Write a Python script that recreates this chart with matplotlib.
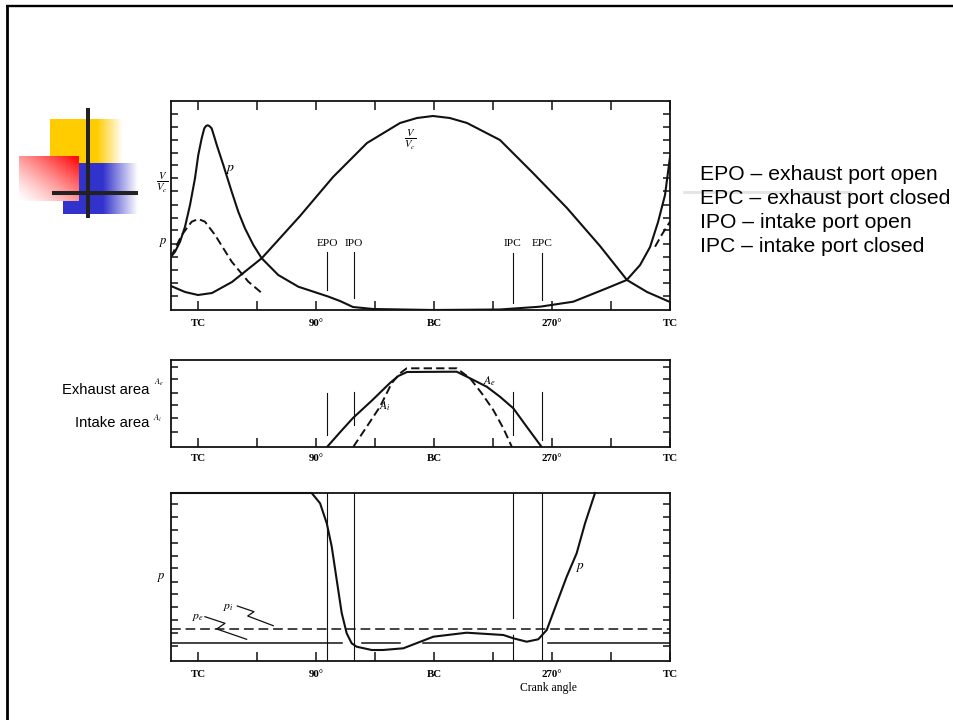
import matplotlib.pyplot as plt
import numpy as np

plt.rcParams['font.family'] = 'Liberation Serif'
plt.rcParams['mathtext.fontset'] = 'stix'
plt.rcParams['lines.scale_dashes'] = False

# crank angle axis
crank_ticks = [0, 45, 90, 135, 180, 225, 270, 315, 360]
crank_labels = ['TC', '', '90°', '', 'BC', '', '270°', '', 'TC']

# port timing, deg after TC
port_names = ['EPO', 'IPO', 'IPC', 'EPC']
port_angle = [98.5, 119, 240, 262.5]

# ---- top panel: pressure and volume (arbitrary units)
p_angle = [-20.6, -17.5, -13.7, -9.9, -6.1, -2.3, 0.2, 2.8, 4.8, 6.1, 7.4, 8.6,
           10.4, 12.4, 14.3, 19.3, 25.7, 30.7, 35.8, 42.2, 48.6, 61.2, 76.5,
           91.8, 99.2, 108.3, 118.2, 133.5, 179.2, 230.3, 260.8, 286.2, 311.7,
           327.0, 337.2, 344.8, 350.9, 356.2, 360]
p_top = [53.3, 58.3, 68.3, 83.3, 105, 131.7, 155, 171.7, 181.7, 184, 184.7, 184,
         181.7, 173.3, 165, 145, 118.3, 98.3, 81.7, 65, 51.7, 35, 23.3,
         16.7, 13.5, 9, 3, 1, 0, 0.5, 3.3, 8.3, 21.7,
         30, 45, 63, 88, 115, 153]

vol_angle = [-20.6, -9.9, 0, 10.7, 25.9, 48.8, 77.8, 103.0, 128.9, 154.1, 167.0,
             179.2, 192.0, 205.2, 230.3, 255.5, 281.4, 306.6, 327.2, 342.5, 360]
vol_ratio = [24, 18, 15, 17, 28, 52, 94, 133, 167, 187, 192,
             194, 192, 187, 170, 137, 102, 64, 30, 18, 8]

p_dash_angle = [-20.6, -12.4, -4.8, 0.2, 5.3, 13.0, 25.7, 38.4, 49.8]
p_dash = [53, 75, 88.3, 91, 88.3, 75, 48.3, 28.3, 15.7]
p_dash_end_angle = [348.6, 353.6, 360]
p_dash_end = [63.3, 75, 88.3]

top_yticks = [196, 183, 170, 157, 145, 132, 119, 105, 92, 80, 66, 53, 40, 27, 14]
port_top_line = [(58, 20), (58, 12), (57, 7), (57, 10)]
port_label_y = 67

# ---- middle panel: port areas
ae_angle = [98.4, 108.3, 118.2, 132.5, 146.4, 152.8, 159.4, 197.3, 207.5, 220.2,
            230.3, 240.5, 250.7, 262.1]
ae_area = [0, 14.7, 29, 46.3, 64, 71, 75, 75.3, 68.7, 60.3,
           50.3, 38.7, 20.3, 0]
ai_angle = [118.5, 128.7, 138.8, 147.7, 154.1, 159.2, 197.3, 207.5, 216.4, 225.2,
            232.9, 239.3]
ai_area = [0.3, 20.3, 40.3, 63.7, 73.7, 78.7, 78.7, 68.7, 53.7, 37, 18.7, 0.3]
mid_yticks = [80, 68, 54, 42, 29, 15]
port_mid_line = [(54, 12), (55, 22), (55, 12), (55, 7)]

# ---- bottom panel: pressure during scavenging
p_low_angle = [-20.6, 81.6, 86.7, 93.1, 98.2, 102.0, 105.8, 109.6, 113.4, 117.2,
               121.0, 132.5, 141.1, 156.6, 179.5, 204.9, 232.9, 240.5, 250.7,
               259.5, 266.0, 273.6, 281.2, 288.8, 295.2, 302.8]
p_low = [168, 168, 168, 157.7, 137.7, 114.3, 81, 48, 27.7, 17.7,
         14.3, 11, 11, 12.7, 24.3, 28.3, 26, 22.7, 19.3,
         21.7, 31, 57.7, 84.3, 107.7, 137.7, 168]
p_intake = 32
p_exhaust = 18
pe_pieces = [(-20.6, 109.6), (124.9, 154.1), (171.6, 240.3), (266.9, 360)]
low_yticks = [157, 144, 131, 118, 105, 93, 79, 67, 54, 41, 28, 15]
pi_zig_angle = [30.0, 42.7, 37.9, 57.4]
pi_zig = [55, 49.3, 45, 35.3]
pe_zig_angle = [5.3, 20.6, 14.3, 37.1]
pe_zig = [44.3, 37.7, 32, 21.7]

notes = ['EPO – exhaust port open', 'EPC – exhaust port closed',
         'IPO – intake port open', 'IPC – intake port closed']

W, H = 954, 720
ink = '#111111'
fig = plt.figure(figsize=(W / 100, H / 100), dpi=100)


def panel(top, bottom, ymax, yticks, pad, top_ticks=False):
    ax = fig.add_axes([171 / W, 1 - bottom / H, (670 - 171) / W, (bottom - top) / H])
    ax.set_xlim(-20.6, 360)
    ax.set_ylim(0, ymax)
    ax.set_xticks(crank_ticks)
    ax.set_xticklabels(crank_labels, fontsize=7.8, fontweight='bold')
    ax.set_yticks(yticks)
    ax.set_yticklabels([])
    ax.tick_params(axis='x', direction='in', length=6.5, width=1.1, pad=pad,
                   top=top_ticks, color=ink)
    ax.tick_params(axis='y', direction='in', length=5, width=1.1,
                   left=True, right=True, color=ink)
    for s in ax.spines.values():
        s.set_linewidth(1.3)
        s.set_color(ink)
    return ax


# top panel
ax1 = panel(101, 310, 209, top_yticks, 6.6, top_ticks=True)
ax1.plot(p_angle, p_top, color=ink, lw=1.5)
ax1.plot(vol_angle, vol_ratio, color=ink, lw=1.5)
ax1.plot(p_dash_angle, p_dash, color=ink, lw=1.4, linestyle=(0, (6, 3)))
ax1.plot(p_dash_end_angle, p_dash_end, color=ink, lw=1.4, linestyle=(0, (6, 3)))
for name, a, (y0, y1) in zip(port_names, port_angle, port_top_line):
    ax1.plot([a, a], [y0, y1], color=ink, lw=0.8)
    ax1.text(a, port_label_y, name, ha='center', va='center', fontsize=8.2)
ax1.text(24.4, 140, '$p$', fontsize=10, ha='center', va='center')
ax1.text(161.7, 170, r'$\frac{V}{V_c}$', fontsize=11, ha='center', va='center')
ax1.text(-0.018, 0.61, r'$\frac{V}{V_c}$', fontsize=11, ha='center', va='center',
         transform=ax1.transAxes)
ax1.text(-0.016, 0.325, '$p$', fontsize=9, ha='center', va='center',
         transform=ax1.transAxes)

# middle panel
ax2 = panel(360, 447, 87, mid_yticks, 5.2)
ax2.plot(ae_angle, ae_area, color=ink, lw=1.5)
ax2.plot(ai_angle, ai_area, color=ink, lw=1.4, linestyle=(0, (6, 3)))
for a, (y0, y1) in zip(port_angle, port_mid_line):
    ax2.plot([a, a], [y0, y1], color=ink, lw=0.8)
ax2.text(222.7, 65.3, '$A_e$', fontsize=8.5, ha='center', va='center')
ax2.text(142.6, 40.3, '$A_i$', fontsize=8.5, ha='center', va='center')
ax2.text(-0.024, 0.74, '$A_e$', fontsize=6, ha='center', va='center',
         transform=ax2.transAxes)
ax2.text(-0.026, 0.33, '$A_i$', fontsize=6, ha='center', va='center',
         transform=ax2.transAxes)

# bottom panel
ax3 = panel(493, 661, 168, low_yticks, 6.6)
ax3.plot(p_low_angle, p_low, color=ink, lw=1.5, clip_on=False)
ax3.axhline(p_intake, color=ink, lw=1.1, linestyle=(0, (7, 3.5)))
for a0, a1 in pe_pieces:
    ax3.plot([a0, a1], [p_exhaust, p_exhaust], color=ink, lw=1.1)
for name, a in zip(port_names, port_angle):
    if name == 'IPC':
        ax3.plot([a, a], [168, 43], color=ink, lw=0.8)
        ax3.plot([a, a], [26, 0], color=ink, lw=0.8)
    else:
        ax3.plot([a, a], [168, 0], color=ink, lw=0.8)
ax3.plot(pi_zig_angle, pi_zig, color=ink, lw=0.9)
ax3.plot(pe_zig_angle, pe_zig, color=ink, lw=0.9)
ax3.text(23.6, 54.3, '$p_i$', fontsize=8.5, ha='center', va='center')
ax3.text(0, 43.7, '$p_e$', fontsize=8.5, ha='center', va='center')
ax3.text(291.3, 93, '$p$', fontsize=9.5, ha='center', va='center')
ax3.text(-0.019, 0.5, '$p$', fontsize=9, ha='center', va='center',
         transform=ax3.transAxes)
ax3.text(0.756, -0.16, 'Crank angle', fontsize=8.4, ha='center', va='center',
         transform=ax3.transAxes)

# slide decoration layer in pixel coordinates
ov = fig.add_axes([0, 0, 1, 1])
ov.patch.set_alpha(0)


def fade_box(x0, x1, y0, y1, rgb, solid_to):
    xs = np.linspace(x0, x1, 200)
    s = np.clip((x1 - xs) / (x1 - solid_to), 0, 1)
    img = np.ones((2, 200, 3))
    for k in range(3):
        img[:, :, k] = 1 - s * (1 - rgb[k])
    ov.imshow(img, extent=(x0, x1, y1, y0), aspect='auto', interpolation='bilinear')


fade_box(50, 123, 119, 163, (1.0, 0.8, 0.0), 97)
fade_box(63, 138, 163, 214, (0.2, 0.2, 0.8), 103)
u, v = np.meshgrid(np.linspace(0, 1, 100), np.linspace(0, 1, 100))
s = ((u + (1 - v)) / 2) ** 1.3
red = np.dstack([np.ones_like(s), 1 - s, 1 - s])
ov.imshow(red, extent=(19, 79, 201, 156), aspect='auto', interpolation='bilinear')
ov.plot([88, 88], [108, 218], color='#222222', lw=2.9, solid_capstyle='butt')
ov.plot([52, 138], [193, 193], color='#222222', lw=2.9, solid_capstyle='butt')

ov.plot([7.5, 7.5], [5, 720], color='black', lw=2, solid_capstyle='butt')
ov.plot([6.5, 954], [5.5, 5.5], color='black', lw=1.7, solid_capstyle='butt')
ov.plot([684, 850], [191.5, 191.5], color='#e4e4e4', lw=2)

for i, t in enumerate(notes):
    ov.text(700, 174 + 24.3 * i, t, fontsize=15.2, family='Liberation Sans',
            ha='left', va='center', color='black')
ov.text(149, 390, 'Exhaust area', fontsize=10.6, family='Liberation Sans',
        ha='right', va='center')
ov.text(149, 423, 'Intake area', fontsize=10.6, family='Liberation Sans',
        ha='right', va='center')

ov.set_xlim(0, W)
ov.set_ylim(H, 0)
ov.axis('off')

fig.savefig('out.png', dpi=100)
